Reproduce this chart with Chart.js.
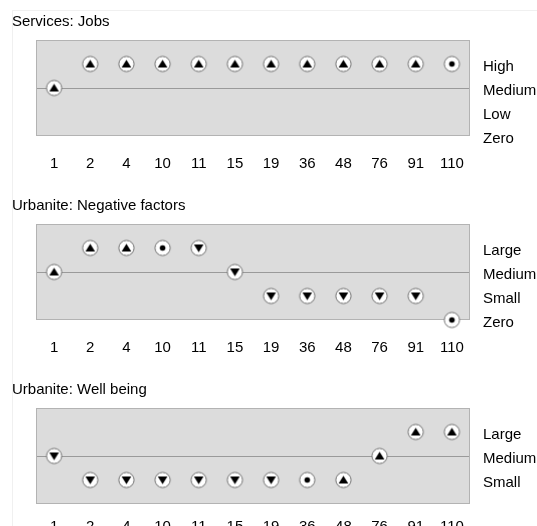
<!DOCTYPE html>
<html>
<head>
<meta charset="utf-8">
<script src="https://cdn.jsdelivr.net/npm/chart.js@4.4.1/dist/chart.umd.min.js"></script>
<style>
  html, body { margin: 0; padding: 0; background: #fff; }
  body { width: 537px; height: 526px; overflow: hidden; position: relative; }
  #frame { position: absolute; left: 12px; top: 10px; width: 530px; height: 530px;
           border-left: 1px solid #f0f0f0; border-top: 1px solid #f0f0f0; }
  canvas { position: absolute; left: 12px; }
</style>
</head>
<body>
<div id="frame"></div>
<canvas id="c1" width="525" height="184" style="top:0px"></canvas>
<canvas id="c2" width="525" height="184" style="top:184px"></canvas>
<canvas id="c3" width="525" height="184" style="top:368px"></canvas>
<script>
// ---- data ----
const categories = ['1','2','4','10','11','15','19','36','48','76','91','110'];

const jobsTitle = 'Services: Jobs';
const jobsLevels = ['Zero','Low','Medium','High'];
const jobsValues = [2,3,3,3,3,3,3,3,3,3,3,3];
const jobsMarks  = ['up','up','up','up','up','up','up','up','up','up','up','dot'];

const negTitle = 'Urbanite: Negative factors';
const negLevels = ['Zero','Small','Medium','Large'];
const negValues = [2,3,3,3,3,2,1,1,1,1,1,0];
const negMarks  = ['up','up','up','dot','down','down','down','down','down','down','down','dot'];

const wellTitle = 'Urbanite: Well being';
const wellLevels = ['','Small','Medium','Large'];
const wellValues = [2,1,1,1,1,1,1,1,1,2,3,3];
const wellMarks  = ['down','down','down','down','down','down','down','dot','up','up','up','up'];

// ---- marker images ----
function makeMarker(kind) {
  const c = document.createElement('canvas');
  c.width = 19; c.height = 19;
  const g = c.getContext('2d');
  const cx = 9.5, cy = 9.5;
  g.beginPath(); g.arc(cx, cy, 7.6, 0, Math.PI * 2);
  g.fillStyle = '#ffffff'; g.fill();
  g.lineWidth = 1; g.strokeStyle = '#6e6e6e'; g.stroke();
  g.fillStyle = '#000000';
  g.beginPath();
  if (kind === 'up') {
    g.moveTo(cx, cy - 4.3); g.lineTo(cx + 4.8, cy + 3.4); g.lineTo(cx - 4.8, cy + 3.4); g.closePath(); g.fill();
  } else if (kind === 'down') {
    g.moveTo(cx, cy + 4.3); g.lineTo(cx + 4.8, cy - 3.4); g.lineTo(cx - 4.8, cy - 3.4); g.closePath(); g.fill();
  } else {
    g.arc(cx, cy, 2.8, 0, Math.PI * 2); g.fill();
  }
  return c;
}
const markers = { up: makeMarker('up'), down: makeMarker('down'), dot: makeMarker('dot') };

const panelPlugin = {
  id: 'panelBg',
  beforeDraw(chart) {
    const a = chart.chartArea, g = chart.ctx;
    g.save(); g.fillStyle = '#dcdcdc';
    g.fillRect(a.left, a.top, a.right - a.left, a.bottom - a.top);
    g.restore();
  },
  beforeDatasetsDraw(chart) {
    const a = chart.chartArea, g = chart.ctx;
    g.save(); g.strokeStyle = '#b3b3b3'; g.lineWidth = 1;
    g.strokeRect(Math.round(a.left) + 0.5, Math.round(a.top) + 0.5,
                 Math.round(a.right - a.left) - 1, Math.round(a.bottom - a.top) - 1);
    g.restore();
  }
};

const FONT = "Arial, 'Liberation Sans', Helvetica, sans-serif";

function makeChart(id, title, levels, values, marks, xPad) {
  return new Chart(document.getElementById(id), {
    type: 'line',
    data: {
      labels: categories,
      datasets: [{
        data: values,
        xAxisID: 'x',
        yAxisID: 'y',
        showLine: false,
        pointStyle: marks.map(m => markers[m]),
        pointRadius: 8,
        clip: false
      }]
    },
    options: {
      responsive: false,
      animation: false,
      events: [],
      layout: { padding: 0 },
      plugins: {
        legend: { display: false },
        tooltip: { enabled: false },
        title: {
          display: true, text: title, align: 'start', color: '#000',
          font: { family: FONT, size: 15, weight: 'normal', lineHeight: 1.2 },
          padding: { top: 13, bottom: 9 }
        }
      },
      scales: {
        yl: {
          position: 'left', display: true,
          ticks: { display: false }, grid: { display: false }, border: { display: false },
          afterFit(s) { s.width = 24; }
        },
        x: {
          offset: true,
          grid: { display: false, drawTicks: false },
          border: { display: false },
          ticks: { color: '#000', padding: xPad, maxRotation: 0, autoSkip: false,
                   font: { family: FONT, size: 15 } },
          afterFit(s) { s.height = 48; }
        },
        y: {
          position: 'right', min: 0, max: 4,
          grid: {
            drawTicks: false,
            color: c => (c.tick && c.tick.value === 2) ? '#9a9a9a' : 'rgba(0,0,0,0)'
          },
          border: { display: false },
          ticks: {
            stepSize: 1, padding: 13, color: '#000', labelOffset: 3,
            font: { family: FONT, size: 15 },
            callback: v => (levels[v] !== undefined ? levels[v] : '')
          },
          afterFit(s) { s.width = 67; }
        }
      }
    },
    plugins: [panelPlugin]
  });
}

makeChart('c1', jobsTitle, jobsLevels, jobsValues, jobsMarks, 19);
makeChart('c2', negTitle, negLevels, negValues, negMarks, 19);
makeChart('c3', wellTitle, wellLevels, wellValues, wellMarks, 14);
</script>
</body>
</html>
